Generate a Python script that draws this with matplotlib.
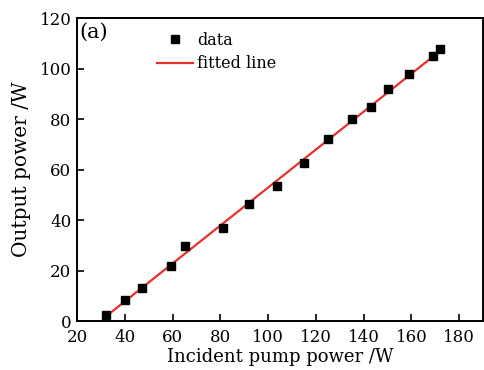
import numpy as np
import matplotlib
matplotlib.use('Agg')
import matplotlib.pyplot as plt

plt.rcParams['font.family'] = ['DejaVu Serif']
plt.rcParams['mathtext.fontset'] = 'dejavuserif'

# measured points
pump_power = [32.1, 40.2, 47.1, 59.2, 65.2, 81.0, 92.2, 103.8, 115.1, 125.3,
              135.3, 143.3, 150.3, 159.0, 169.2, 172.0]
output_power = [2.4, 8.3, 13.0, 21.9, 29.7, 36.7, 46.2, 53.6, 62.7, 72.0,
                80.0, 84.9, 91.8, 97.8, 104.9, 107.7]

x_ticks = [20, 40, 60, 80, 100, 120, 140, 160, 180]
y_ticks = [0, 20, 40, 60, 80, 100, 120]

fig = plt.figure(figsize=(4.84, 3.70), dpi=100)
ax = fig.add_axes([0.159, 0.1324, 0.839, 0.8186])

k, b = np.polyfit(pump_power, output_power, 1)
xf = np.array([min(pump_power), max(pump_power)])

ax.plot(pump_power, output_power, 's', color='black', markersize=6, label='data', zorder=3)
ax.plot(xf, k * xf + b, '-', color='#e8302a', linewidth=1.6, label='fitted line', zorder=2)

ax.set_xlim(20, 190)
ax.set_ylim(0, 120)
ax.set_xticks(x_ticks)
ax.set_yticks(y_ticks)
ax.tick_params(direction='in', length=5, width=1.2, labelsize=12)
ax.tick_params(axis='x', pad=5.5)
ax.tick_params(axis='y', pad=4)
for s in ax.spines.values():
    s.set_linewidth(1.4)

ax.set_xlabel('Incident pump power /W', fontsize=13, labelpad=2)
ax.set_ylabel('Output power /W', fontsize=14.5, labelpad=6)

ax.text(0.005, 0.985, '(a)', transform=ax.transAxes, fontsize=15, va='top', ha='left')
leg = ax.legend(loc='upper left', bbox_to_anchor=(0.197, 0.955), frameon=False, fontsize=11.5,
                handlelength=2.25, handletextpad=0.25, labelspacing=0.4,
                borderpad=0, borderaxespad=0)

fig.savefig('out.png', dpi=100)
